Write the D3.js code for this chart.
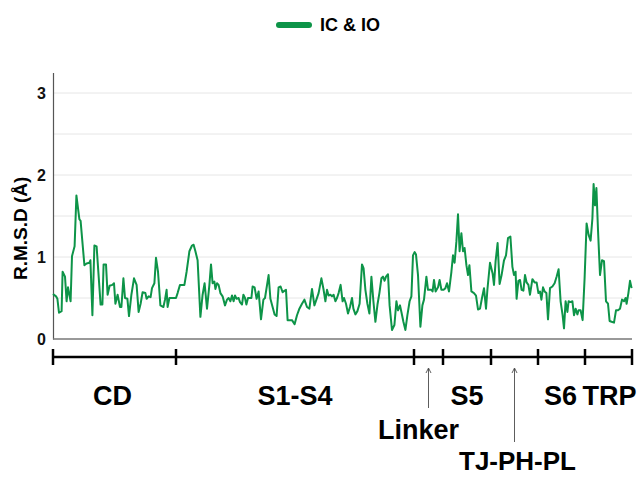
<!DOCTYPE html>
<html>
<head>
<meta charset="utf-8">
<script src="https://cdn.jsdelivr.net/npm/d3@7"></script>
<style>
  body { margin: 0; background: #fff; }
  text { font-family: "Liberation Sans", Arial, sans-serif; }
</style>
</head>
<body>
<div id="chart"></div>
<script>
var w = 639, h = 477;

// residue position along the chain (0 = start of CD) and RMSD (Å)
var residue = [0,1.5,2.2,3,4.3,4.8,6,6.8,7.5,8.8,9.5,10.8,11.7,13.2,13.8,15.7,16.8,18.2,18.7,19.7,20.7,21.8,23.8,24.7,25.3,26.5,27.3,28.3,29.7,30.5,31.2,32.3,33.5,34.2,35.2,36,37.2,38,39.2,40.5,41.8,42.8,43.8,44.8,46.2,46.8,47.8,48.8,49.5,50.7,51.5,52.5,53.7,55.2,56,56.8,
  57.3,58.2,59.8,61.5,62.3,63.5,65.7,66.8,68.2,69.5,70.3,71.2,72.3,73.7,74.8,75.8,77,78.2,79,79.8,80.7,81.2,82,82.8,83.7,84.8,86,87,87.8,88.7,89.5,90.3,91,91.8,92.8,93.5,94.5,95.2,96,96.7,97.5,99.2,99.8,100.8,101.8,102.8,104,105.2,106,107.8,108.7,109.8,110.8,111.8,112.8,113.8,114.8,
  115.3,116.5,117.3,119.5,120.8,122,123.2,124.5,125.7,127,128.2,129.5,130.7,131.7,132.8,134.2,135.3,136.2,137,137.8,138.7,139.5,140.3,141.2,142,142.8,143.8,144.8,145.5,146.5,147.5,148.5,149.5,150.2,151.2,152.2,153.3,154.5,155.3,156.2,157.2,158.2,159.2,160.2,161.2,162.3,163.2,164.2,165,165.8,166.5,167.5,168.3,169.5,170.7,171.7,172.5,173.5,
  174.2,175.2,176.2,177.2,178.3,179.2,180,180.8,181.5,182.5,183.7,184.7,185.5,186.7,187.5,188.3,189.2,189.8,190.5,191.3,192.5,193.3,194.2,195.3,196.2,197,198,199.2,200,200.8,201.7,202.5,203.3,204.2,205,205.8,206.7,207.5,208.2,209.2,210.5,211.5,212.5,213.5,214.5,215.5,216.5,217.2,218.5,219.8,220.5,221.3,222.3,223.3,224.3,225.5,226.5,227.5,228.7,229.7,230.5,231.3,
  231.8,232.7,233.5,234.3,235.2,236,236.8,237.7,238.5,239.7,240.8,241.8,242.7,243.5,244.2,245,245.8,246.7,247.5,248.5,249.7,250.8,251.8,252.8,253.8,254.8,255.5,256.3,257.2,257.8,258.8,259.7,260.5,261.3,262.2,262.8,263.8,264.8,265.8,266.8,267.8,268.8,269.7,270.3,271,271.7,272.5,273.5,274.5,275.5,276.5,277.5,278.3,279.3,280.5,281.5,282.5,283.5,284.5,285.5,286.3,286.8,287.7,288.5,289.3];

var rmsd = [0.55,0.52,0.49,0.32,0.34,0.82,0.76,0.46,0.63,0.46,1.01,1.13,1.75,1.46,1.44,0.90,0.92,0.93,0.96,0.29,1.14,1.13,0.42,0.42,0.91,0.91,0.54,0.65,0.66,0.68,0.43,0.54,0.39,0.39,0.74,0.50,0.49,0.28,0.54,0.74,0.66,0.33,0.43,0.57,0.56,0.49,0.52,0.51,0.62,0.68,0.99,0.82,0.41,0.39,0.48,0.60,
  0.39,0.50,0.50,0.50,0.56,0.66,0.66,0.82,1.07,1.14,1.15,1.07,0.96,0.27,0.54,0.68,0.37,0.66,0.91,0.68,0.70,0.61,0.68,0.66,0.56,0.52,0.41,0.48,0.50,0.46,0.53,0.46,0.53,0.49,0.50,0.45,0.42,0.54,0.50,0.42,0.50,0.50,0.64,0.63,0.49,0.58,0.24,0.48,0.50,0.78,0.49,0.39,0.30,0.28,0.63,0.64,0.57,
  0.58,0.60,0.23,0.23,0.18,0.29,0.37,0.43,0.48,0.39,0.37,0.61,0.41,0.48,0.56,0.74,0.60,0.46,0.60,0.53,0.54,0.52,0.54,0.46,0.50,0.56,0.66,0.46,0.50,0.43,0.31,0.39,0.50,0.37,0.30,0.34,0.43,0.91,0.86,0.60,0.43,0.31,0.76,0.46,0.21,0.43,0.56,0.74,0.76,0.71,0.76,0.79,0.41,0.11,0.17,0.46,0.35,0.41,
  0.33,0.21,0.11,0.29,0.46,0.52,1.02,1.06,1.03,0.78,0.15,0.41,0.48,0.76,0.60,0.60,0.60,0.58,0.72,0.58,0.63,0.72,0.60,0.60,0.62,0.68,0.58,0.82,1.02,0.93,1.19,1.52,1.07,1.29,1.07,1.11,0.90,0.78,0.90,0.58,0.56,0.53,0.36,0.37,0.50,0.62,0.37,0.60,0.93,0.80,0.66,0.95,1.17,0.67,0.78,0.96,1.02,1.23,1.25,0.88,0.78,0.82,
  0.49,0.71,0.72,0.60,0.59,0.78,0.69,0.66,0.54,0.73,0.69,0.69,0.56,0.58,0.48,0.63,0.58,0.56,0.24,0.62,0.64,0.68,0.76,0.85,0.46,0.29,0.13,0.46,0.33,0.46,0.45,0.46,0.29,0.37,0.30,0.35,0.35,0.23,0.74,1.41,1.27,1.20,1.47,1.89,1.63,1.84,1.33,0.78,0.96,0.95,0.46,0.43,0.22,0.21,0.20,0.35,0.35,0.37,0.48,0.46,0.50,0.43,0.56,0.71,0.62];

// domain boundaries (same residue units) and their names
var bounds = [0, 61.5, 180.5, 195, 219, 242.5, 266, 289.5];
var domains = ["CD", "S1-S4", "Linker", "S5", "TJ-PH-PL", "S6", "TRP"];
var yTicks = [0, 1, 2, 3];
var gridVals = [0.5, 1, 1.5, 2, 2.5, 3];
var seriesName = "IC & IO";
var green = "#0d9448";

var svg = d3.select("#chart").append("svg")
    .attr("width", w)
    .attr("height", h);

var x = d3.scaleLinear().domain([0, 289.5]).range([53, 632]);
var y = d3.scaleLinear().domain([0, 3.25]).range([339, 72.5]);

// light gridlines
svg.append("g").selectAll("line")
    .data(gridVals)
  .enter().append("line")
    .attr("x1", x(0)).attr("x2", x(289.5))
    .attr("y1", function(d) { return y(d); })
    .attr("y2", function(d) { return y(d); })
    .attr("stroke", "#e6e6e6")
    .attr("stroke-width", 1);

// y axis: plain line, bold labels, no tick marks
var yAxis = svg.append("g")
    .attr("transform", "translate(" + x(0) + ",0)")
    .call(d3.axisLeft(y).tickValues(yTicks).tickFormat(d3.format("d")).tickSize(0).tickPadding(7));
yAxis.select(".domain").attr("stroke", "#555").attr("stroke-width", 1.2);
yAxis.selectAll("text")
    .style("font-family", "'Liberation Sans', Arial, sans-serif")
    .style("font-size", "16px")
    .style("font-weight", "bold")
    .attr("fill", "#111");

// x baseline
svg.append("line")
    .attr("x1", x(0)).attr("x2", x(289.5))
    .attr("y1", y(0)).attr("y2", y(0))
    .attr("stroke", "#777")
    .attr("stroke-width", 1.5);

svg.append("text")
    .attr("transform", "translate(27," + y(1.35) + ") rotate(-90)")
    .attr("text-anchor", "middle")
    .style("font-size", "19px")
    .style("font-weight", "bold")
    .text("R.M.S.D (Å)");

// rmsd line
var pts = residue.map(function(r, i) { return [r, rmsd[i]]; });
svg.append("path")
    .datum(pts)
    .attr("fill", "none")
    .attr("stroke", green)
    .attr("stroke-width", 2)
    .attr("stroke-linejoin", "round")
    .attr("d", d3.line()
        .x(function(d) { return x(d[0]); })
        .y(function(d) { return y(d[1]); }));

// legend
svg.append("line")
    .attr("x1", 279).attr("x2", 309)
    .attr("y1", 25).attr("y2", 25)
    .attr("stroke", green)
    .attr("stroke-width", 6)
    .attr("stroke-linecap", "round");
svg.append("text")
    .attr("x", 320).attr("y", 31)
    .style("font-size", "18px")
    .style("font-weight", "bold")
    .text(seriesName);

// domain bar
var barY = 357;
svg.append("line")
    .attr("x1", x(bounds[0])).attr("x2", x(bounds[bounds.length - 1]))
    .attr("y1", barY).attr("y2", barY)
    .attr("stroke", "#000")
    .attr("stroke-width", 2.5);
svg.append("g").selectAll("line")
    .data(bounds)
  .enter().append("line")
    .attr("x1", function(d) { return x(d); })
    .attr("x2", function(d) { return x(d); })
    .attr("y1", barY - 8).attr("y2", barY + 8)
    .attr("stroke", "#000")
    .attr("stroke-width", 2.5);

// labels: main row, plus two called out with arrows
var labelRow = [0, 1, 3, 5, 6];
var nudge = {0: -2, 1: 0, 3: 0, 5: -1, 6: 1};
svg.append("g").selectAll("text")
    .data(labelRow)
  .enter().append("text")
    .attr("x", function(i) { return x((bounds[i] + bounds[i + 1]) / 2) + nudge[i]; })
    .attr("y", 405)
    .attr("text-anchor", "middle")
    .style("font-size", "27px")
    .style("font-weight", "bold")
    .text(function(i) { return domains[i]; });

var callouts = [{i: 2, ty: 439, tail: 408, dx: -10, fs: 27}, {i: 4, ty: 470, tail: 442, dx: 3, fs: 26}];
callouts.forEach(function(c) {
  var cx = x((bounds[c.i] + bounds[c.i + 1]) / 2);
  svg.append("line")
      .attr("x1", cx).attr("x2", cx)
      .attr("y1", c.tail).attr("y2", barY + 12)
      .attr("stroke", "#333")
      .attr("stroke-width", 0.8);
  svg.append("path")
      .attr("d", "M" + (cx - 2.5) + "," + (barY + 16) + "L" + cx + "," + (barY + 11) + "L" + (cx + 2.5) + "," + (barY + 16))
      .attr("fill", "none")
      .attr("stroke", "#333")
      .attr("stroke-width", 0.8);
  svg.append("text")
      .attr("x", cx + c.dx)
      .attr("y", c.ty)
      .attr("text-anchor", "middle")
      .style("font-size", c.fs + "px")
      .style("font-weight", "bold")
      .text(domains[c.i]);
});
</script>
</body>
</html>
